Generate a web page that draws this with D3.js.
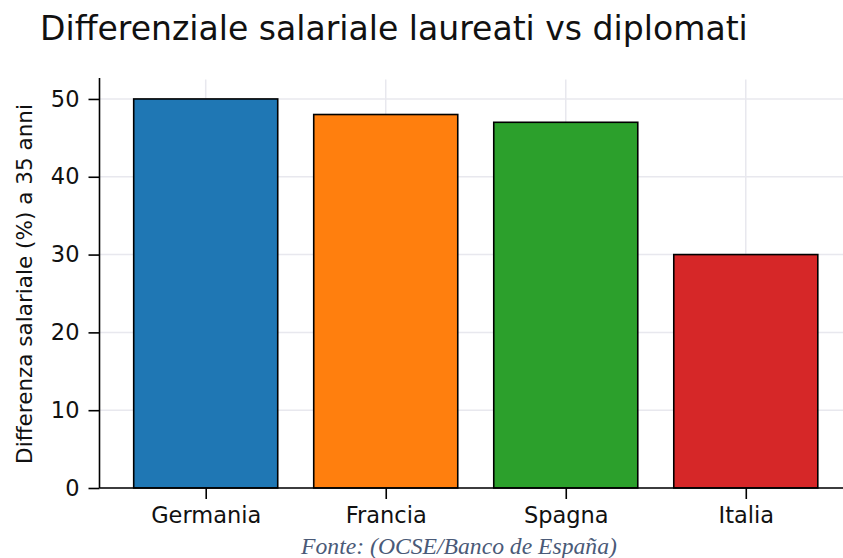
<!DOCTYPE html>
<html><head><meta charset="utf-8">
<script src="https://cdn.jsdelivr.net/npm/d3@7"></script>
<style>body{margin:0;background:#fff}svg{display:block}</style>
</head><body>
<script>
const categories = ["Germania", "Francia", "Spagna", "Italia"];
const values = [50, 48, 47, 30];
const colors = ["#1f77b4", "#ff7f0e", "#2ca02c", "#d62728"];
const yTicks = [0, 10, 20, 30, 40, 50];
const titleText = "Differenziale salariale laureati vs diplomati";
const yLabelText = "Differenza salariale (%) a 35 anni";
const sourceText = "Fonte: (OCSE/Banco de España)";

const W = 843, H = 558;
const svg = d3.select("body").append("svg").attr("width", W).attr("height", H);

const x = d3.scaleLinear().domain([-0.59, categories.length - 1 + 0.59]).range([99.5, 852]);
const y = d3.scaleLinear().domain([0, 52.5]).range([488, 79.5]);
const barW = x(0.4) - x(-0.4);
const font = "DejaVu Sans, sans-serif";

function fit(sel, target) {
  const n = sel.node();
  const fs = parseFloat(sel.attr("font-size"));
  const len = n.getComputedTextLength();
  sel.attr("font-size", fs * target / len);
}

// grid
const g = svg.append("g");
g.selectAll("line.hg").data(yTicks).join("line")
  .attr("x1", x.range()[0]).attr("x2", W)
  .attr("y1", d => y(d)).attr("y2", d => y(d))
  .attr("stroke", "#e8e8ee").attr("stroke-width", 1.5);
g.selectAll("line.vg").data(categories).join("line")
  .attr("x1", (d, i) => x(i)).attr("x2", (d, i) => x(i))
  .attr("y1", y(0)).attr("y2", y.range()[1])
  .attr("stroke", "#e8e8ee").attr("stroke-width", 1.5);

// bars
svg.selectAll("rect.bar").data(values).join("rect")
  .attr("x", (d, i) => x(i) - barW / 2)
  .attr("width", barW)
  .attr("y", d => y(d))
  .attr("height", d => y(0) - y(d))
  .attr("fill", (d, i) => colors[i])
  .attr("stroke", "#000").attr("stroke-width", 1.6);

// axes
const yAxis = d3.axisLeft(y).tickValues(yTicks).tickSize(11).tickPadding(9).tickFormat(d3.format("d"));
const ya = svg.append("g").attr("transform", `translate(${x.range()[0]},0)`).call(yAxis);
const xAxis = d3.axisBottom(x).tickValues(d3.range(categories.length)).tickSize(11).tickPadding(8)
  .tickFormat(i => categories[i]);
const xa = svg.append("g").attr("transform", `translate(0,${y(0)})`).call(xAxis);
[ya, xa].forEach(a => {
  a.select(".domain").attr("stroke", "#000").attr("stroke-width", 1.6);
  a.selectAll(".tick line").attr("stroke", "#000").attr("stroke-width", 1.6);
  a.selectAll(".tick text").attr("font-family", font).attr("font-size", 22.5).attr("fill", "#111");
});
ya.select(".domain").attr("d", `M0,${y(0)}V${y.range()[1] - 1.5}`);
xa.select(".domain").attr("d", `M${x.range()[0]},0H${W}`);

// title
const t = svg.append("text").attr("x", 40).attr("y", 40)
  .attr("font-family", font).attr("font-size", 27).attr("fill", "#111").text(titleText);
fit(t, 708);

// y label
const yl = svg.append("text").attr("transform", "translate(32,284) rotate(-90)")
  .attr("text-anchor", "middle").attr("font-family", font).attr("font-size", 19)
  .attr("fill", "#111").text(yLabelText);
fit(yl, 360);

// source
const s = svg.append("text").attr("x", 459).attr("y", 554).attr("text-anchor", "middle")
  .attr("font-family", "Liberation Serif, serif").attr("font-style", "italic")
  .attr("font-size", 21).attr("fill", "#4a5a78").text(sourceText);
fit(s, 316);
</script>
</body></html>
